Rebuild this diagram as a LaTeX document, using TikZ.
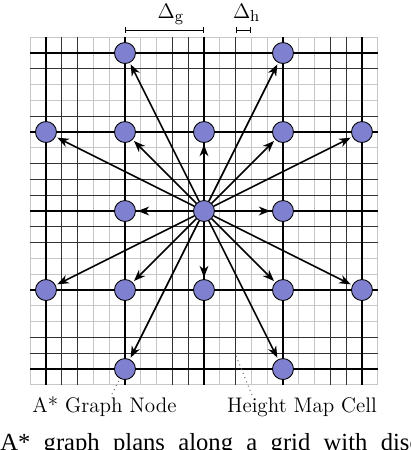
\documentclass[tikz,border=0pt]{standalone}
\usepackage{fontspec}
\newfontfamily\capfont{Liberation Serif}
\usetikzlibrary{positioning, arrows.meta, calc}
\definecolor{nodeblue}{RGB}{128,128,208}

\begin{document}
\begin{tikzpicture}[
    x=1.58cm, y=1.58cm,
    hcell/.style={draw=black!22, line width=0.4pt},
    hcelldark/.style={draw=black!80, line width=0.55pt},
    gline/.style={draw=black, line width=0.6pt},
    glinethick/.style={draw=black, line width=1.3pt},
    gnode/.style={
        circle,
        draw=black,
        line width=0.5pt,
        fill=nodeblue,
        minimum size=0.42cm,
        inner sep=0pt
    },
    move/.style={-{Stealth[length=6.5pt,width=5pt,inset=2pt]}, line width=0.9pt, shorten >=1pt},
    pointer/.style={dotted, draw=black!55, line width=0.6pt},
    dimbar/.style={{Bar[width=3pt]}-{Bar[width=3pt]}, line width=0.6pt},
    lbl/.style={font=\large, inner sep=0pt},
    dimlbl/.style={font=\fontsize{13}{15}\selectfont, inner sep=0pt}
]
\clip (-2.582,-3.025) rectangle (2.608,2.671);

% --- height map cells ---
\foreach \k in {-11,...,11} {
    \draw[hcell] (\k/5,-2.2) -- (\k/5,2.2);
    \draw[hcell] (-2.2,\k/5) -- (2.2,\k/5);
}
\foreach \x in {-1.8,-1.6,-0.4,-0.2,0.4,1.6,1.8}
    \draw[hcelldark] (\x,-2.2) -- (\x,2.2);
\foreach \y in {1.8,1.2,0.6,0.4,0.2,-0.2,-0.4,-1.6,-1.8}
    \draw[hcelldark] (-2.2,\y) -- (2.2,\y);

% --- graph lines ---
\foreach \x in {-1,1} \draw[gline] (\x,-2.2) -- (\x,2.2);
\foreach \y in {1,-1,-2} \draw[gline] (-2.2,\y) -- (2.2,\y);
\foreach \x in {-2,0,2} \draw[glinethick] (\x,-2.2) -- (\x,2.2);
\foreach \y in {2,0} \draw[glinethick] (-2.2,\y) -- (2.2,\y);

% --- graph nodes and moves ---
\node[gnode] (n22) at (0,0) {};
\foreach \c/\r in {1/0,3/0,0/1,1/1,2/1,3/1,4/1,1/2,3/2,0/3,1/3,2/3,3/3,4/3,1/4,3/4} {
    \node[gnode] (n\c\r) at (\c-2,2-\r) {};
    \draw[move] (n22) -- (n\c\r);
}

% --- spacings ---
\coordinate (dg1) at (-1,2.29);
\coordinate (dg2) at (0,2.29);
\draw[dimbar] (dg1) -- (dg2);
\node[dimlbl, anchor=base] (dglabel) at (-0.42,2.443) {$\Delta_{\mathrm{g}}$};
\coordinate (dh1) at (0.4,2.29);
\coordinate (dh2) at (0.6,2.29);
\draw[dimbar] (dh1) -- (dh2);
\node[dimlbl, anchor=base] (dhlabel) at (0.54,2.443) {$\Delta_{\mathrm{h}}$};

% --- legend ---
\node[lbl, anchor=base] (gnlabel) at (-1.26,-2.544) {A* Graph Node};
\node[lbl, anchor=base] (hmlabel) at (1.24,-2.544) {Height Map Cell};
\coordinate (cell) at (0.4,-1.82);
\draw[pointer] ([xshift=0.15cm, yshift=1pt]gnlabel.north) -- (n14);
\draw[pointer] ([xshift=-1cm, yshift=1pt]hmlabel.north) -- (cell);

\node[anchor=base west, inner sep=0pt, font=\capfont\fontsize{14}{16}\selectfont] (caption) at (-2.582,-3.032) {\spaceskip=7.6pt A* graph plans along a grid with disc};

\end{tikzpicture}
\end{document}
